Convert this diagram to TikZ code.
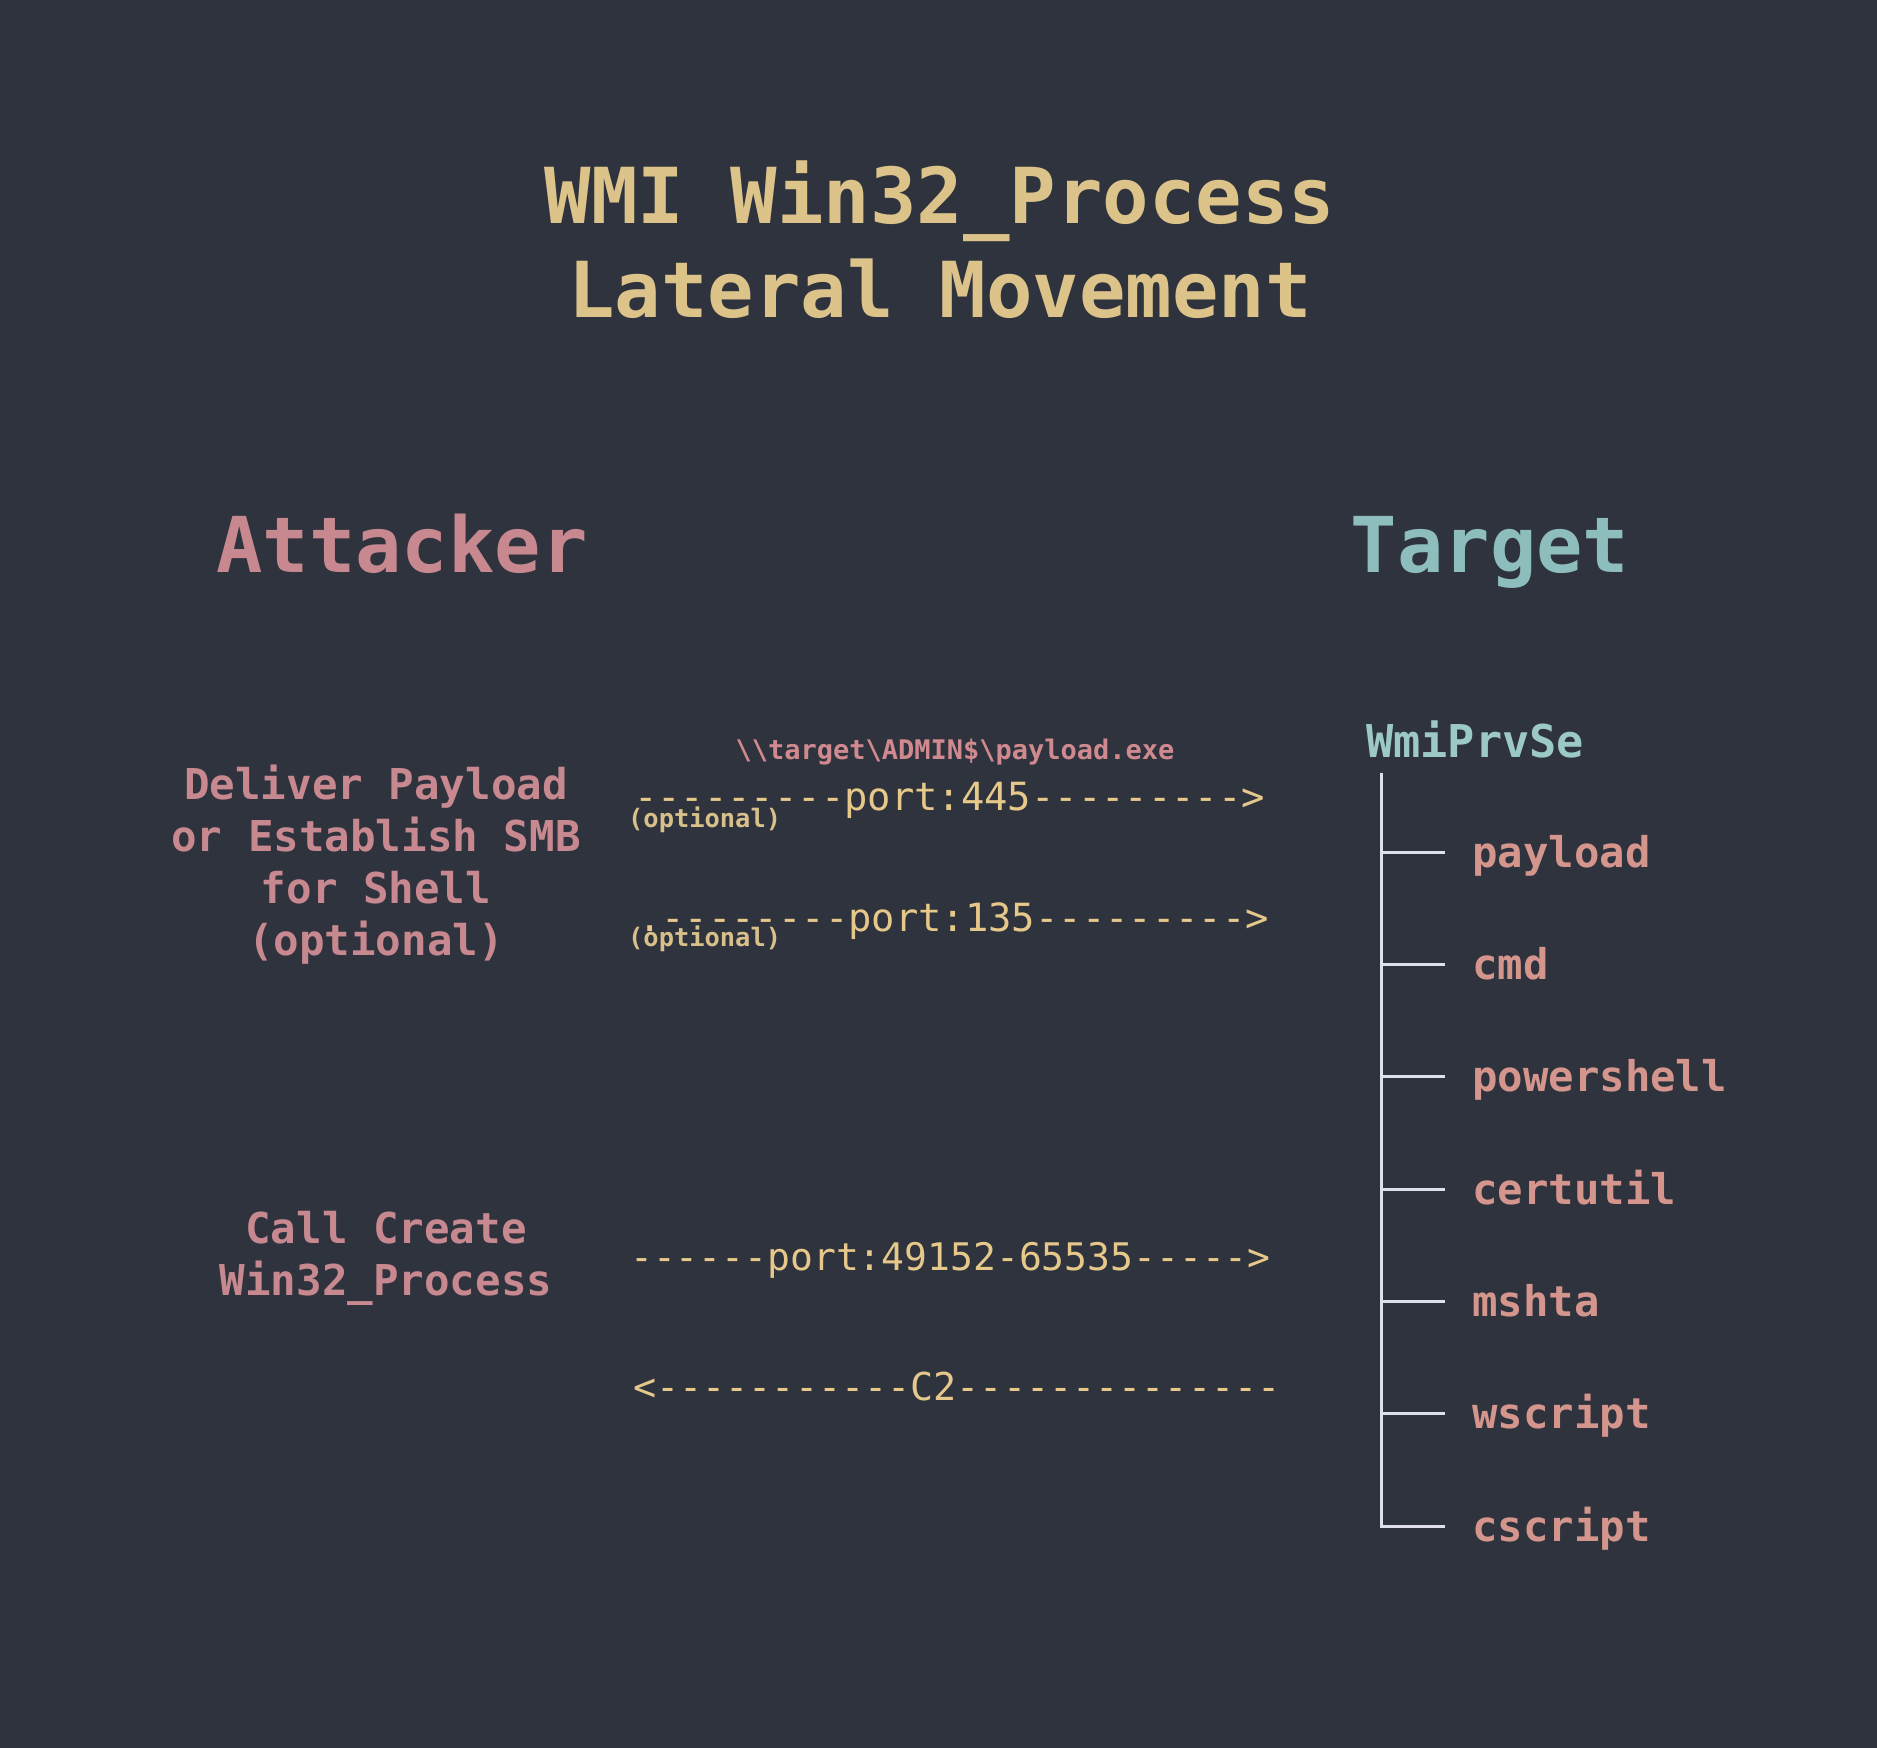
\documentclass[tikz,border=0pt]{standalone}
\usepackage{fontspec}
\setmonofont{DejaVu Sans Mono}
\definecolor{bg}{HTML}{2F333E}
\definecolor{gold}{HTML}{DCC38A}
\definecolor{rose}{HTML}{C7898F}
\definecolor{teal}{HTML}{8EBDBD}
\definecolor{lteal}{HTML}{9CC9C5}
\definecolor{salmon}{HTML}{D4958C}
\definecolor{pathpink}{HTML}{D08A8F}
\definecolor{portc}{HTML}{E6C98A}
\definecolor{optc}{HTML}{D8C08A}
\definecolor{treec}{HTML}{E0E0EA}
\tikzset{
  every node/.style={inner sep=0pt, font=\ttfamily},
  titletext/.style={text=gold, font=\ttfamily\bfseries\fontsize{77.2}{90}\selectfont, anchor=base},
  sidehead/.style={font=\ttfamily\bfseries\fontsize{77}{90}\selectfont, anchor=base},
  steptext/.style={text=rose, font=\ttfamily\bfseries\fontsize{42.5}{52}\selectfont, anchor=base},
  porttext/.style={text=portc, font=\ttfamily\fontsize{38.8}{44}\selectfont, anchor=base west},
  opttext/.style={text=optc, font=\ttfamily\bfseries\fontsize{25.4}{28}\selectfont, anchor=base west},
  pathtext/.style={text=pathpink, font=\ttfamily\bfseries\fontsize{27}{30}\selectfont, anchor=base},
  rootnode/.style={text=lteal, font=\ttfamily\bfseries\fontsize{45.2}{50}\selectfont, anchor=base west},
  leaf/.style={text=salmon, font=\ttfamily\bfseries\fontsize{42.3}{50}\selectfont, anchor=west,
    inner xsep=27pt, inner ysep=0pt, text height=32pt, text depth=2pt},
  treeline/.style={draw=treec, line width=3pt, line join=miter},
}
\begin{document}
\begin{tikzpicture}[x=1pt,y=-1pt]
\fill[bg] (0,0) rectangle (1877,1748);
\useasboundingbox (0,0) rectangle (1877,1748);

% title
\node[titletext] (title1) at (940,223) {WMI Win32\_Process};
\node[titletext] (title2) at (940,317) {Lateral Movement};

% column heads
\node[sidehead, text=rose] (attacker) at (402,572) {Attacker};
\node[sidehead, text=teal] (target) at (1490,572) {Target};

% attacker steps
\node[steptext] (d1) at (376,799) {Deliver Payload};
\node[steptext] (d2) at (376,851) {or Establish SMB};
\node[steptext] (d3) at (376,903) {for Shell};
\node[steptext] (d4) at (376,955) {(optional)};
\node[steptext] (c1) at (386,1243) {Call Create};
\node[steptext] (c2) at (386,1295) {Win32\_Process};

% path
\node[pathtext] (path) at (955,759) {\textbackslash\textbackslash target\textbackslash ADMIN\$\textbackslash payload.exe};

% ascii connectors
\node[porttext] (p445) at (634,810) {---------port:445--------->};
\node[opttext] (opt1) at (628,827) {(optional)};
\node[porttext] (p135) at (638,931) {.--------port:135--------->};
\node[opttext] (opt2) at (628,946) {(optional)};
\node[porttext, font=\ttfamily\fontsize{38.0}{44}\selectfont] (pdyn) at (630,1270) {------port:49152-65535----->};
\node[porttext, font=\ttfamily\fontsize{38.4}{44}\selectfont] (c2line) at (633,1400) {<-----------C2--------------};

% process tree
\node[rootnode] (wmi) at (1366,757) {WmiPrvSe};
\coordinate (trunk) at (1381,773);
\node[leaf] (payload) at (1445,852) {payload};
\node[leaf] (cmd) at (1445,964) {cmd};
\node[leaf] (powershell) at (1445,1076) {powershell};
\node[leaf] (certutil) at (1445,1189) {certutil};
\node[leaf] (mshta) at (1445,1301) {mshta};
\node[leaf] (wscript) at (1445,1413) {wscript};
\node[leaf] (cscript) at (1445,1526) {cscript};
\foreach \n in {payload,cmd,powershell,certutil,mshta,wscript,cscript}
  \draw[treeline] (trunk) |- (\n.west);
\end{tikzpicture}
\end{document}
